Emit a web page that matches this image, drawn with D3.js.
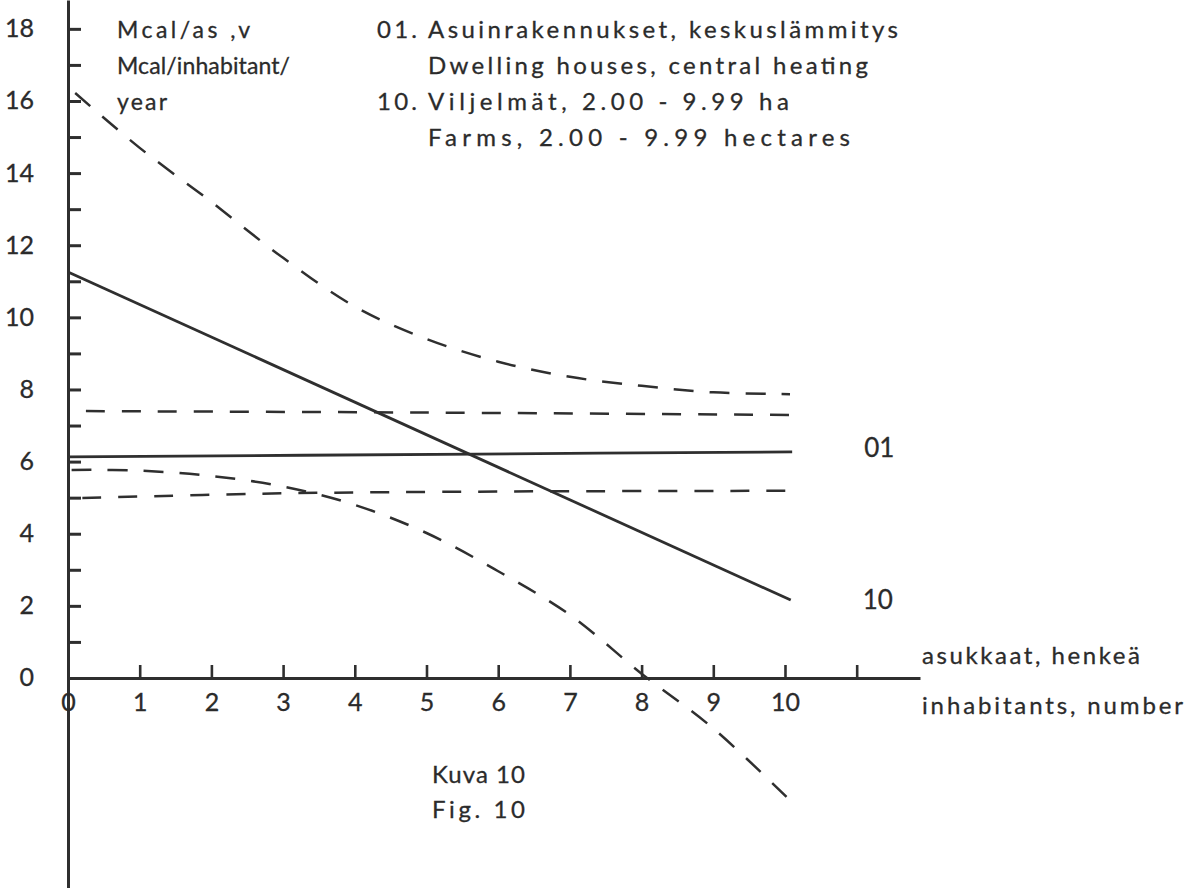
<!DOCTYPE html>
<html>
<head>
<meta charset="utf-8">
<script src="https://cdn.jsdelivr.net/npm/d3@7"></script>
<style>
  html, body { margin: 0; padding: 0; background: #ffffff; }
  svg { display: block; }
  text {
    font-family: Lato, "Open Sans", sans-serif;
    fill: #2b2b2b;
    stroke: #2b2b2b;
    stroke-width: 0.3px;
  }
</style>
</head>
<body>
<svg id="chart" width="1200" height="888"></svg>
<script>
// Energy use per inhabitant against household size (Fig. 10)
// x: inhabitants, number; y: Mcal per inhabitant per year

const xTickValues = [0, 1, 2, 3, 4, 5, 6, 7, 8, 9, 10, 11];
const xTickLabels = ["0", "1", "2", "3", "4", "5", "6", "7", "8", "9", "10", ""];
const yTickValues = [0, 1, 2, 3, 4, 5, 6, 7, 8, 9, 10, 11, 12, 13, 14, 15, 16, 17, 18];
const yTickLabels = ["0", "", "2", "", "4", "", "6", "", "8", "", "10", "", "12", "", "14", "", "16", "", "18"];

// 01 dwelling houses, central heating: regression line and its limits
const dwellingMean  = [[0, 6.13], [5.7, 6.21], [10.1, 6.27]];
const dwellingUpper = [[0.25, 7.40], [5, 7.36], [10.2, 7.29]];
const dwellingLower = [[0.2, 4.99], [3, 5.12], [6, 5.17], [10.2, 5.19]];

// 10 farms, 2.00 - 9.99 ha: regression line and its limits
const farmMean  = [[0, 11.26], [10.08, 2.16]];
const farmUpper = [[0.1, 16.22], [1, 14.7], [2, 13.2], [3, 11.65], [4, 10.3], [5, 9.4],
                   [6, 8.77], [7, 8.35], [8, 8.1], [9, 7.92], [10.07, 7.87]];
const farmLower = [[0.05, 5.77], [1, 5.75], [2, 5.6], [3, 5.31], [4, 4.8], [5, 4.02],
                   [6, 2.96], [7, 1.75], [8, 0.12], [9, -1.4], [10.1, -3.45]];

const seriesCodes = ["01", "10"];
const unitLines = ["Mcal/as ,v", "Mcal/inhabitant/", "year"];
const legendNumbers = ["01.", "10."];
const legendLines = [
  "Asuinrakennukset, keskuslämmitys",
  "Dwelling houses, central heating",
  "Viljelmät, 2.00 - 9.99 ha",
  "Farms, 2.00 - 9.99 hectares"
];
const xTitleLines = ["asukkaat, henkeä", "inhabitants, number"];
const captionLines = ["Kuva 10", "Fig.  10"];

const ink = "#2f2f2f";
const svg = d3.select("#chart");

const x = d3.scaleLinear().domain([0, 11.883]).range([68, 920]);
const y = d3.scaleLinear().domain([-5.824, 18.8]).range([888, 0]);

// y axis: ticks pointing right, labels on the left
const yAxis = d3.axisLeft(y)
  .tickValues(yTickValues)
  .tickFormat((d, i) => yTickLabels[i])
  .tickSizeInner(-13)
  .tickSizeOuter(0)
  .tickPadding(34);

const gy = svg.append("g").attr("transform", "translate(68,0)").call(yAxis);
gy.select(".domain").attr("stroke", ink).attr("stroke-width", 3);
gy.selectAll(".tick line").attr("stroke", ink).attr("stroke-width", 3);
gy.selectAll(".tick text")
  .attr("fill", "#2b2b2b")
  .style("font-size", "25px")
  .style("font-family", "Lato, 'Open Sans', sans-serif");

// x axis: ticks pointing up, labels below
const xAxis = d3.axisBottom(x)
  .tickValues(xTickValues)
  .tickFormat((d, i) => xTickLabels[i])
  .tickSizeInner(-13)
  .tickSizeOuter(0)
  .tickPadding(15);

const gx = svg.append("g").attr("transform", `translate(0,${y(0)})`).call(xAxis);
gx.select(".domain").attr("stroke", ink).attr("stroke-width", 3);
gx.selectAll(".tick line").attr("stroke", ink).attr("stroke-width", 2.6);
gx.selectAll(".tick text")
  .attr("fill", "#2b2b2b")
  .style("font-size", "25px")
  .style("font-family", "Lato, 'Open Sans', sans-serif");

// data lines
const line = d3.line().x(d => x(d[0])).y(d => y(d[1])).curve(d3.curveCatmullRom.alpha(0.5));

const plot = svg.append("g").attr("fill", "none").attr("stroke", ink).attr("stroke-linecap", "butt");

plot.append("path").datum(dwellingMean).attr("d", line).attr("stroke-width", 2.8);
plot.append("path").datum(dwellingUpper).attr("d", line).attr("stroke-width", 2.5).attr("stroke-dasharray", "19,17");
plot.append("path").datum(dwellingLower).attr("d", line).attr("stroke-width", 2.5).attr("stroke-dasharray", "19,17");

plot.append("path").datum(farmMean).attr("d", line).attr("stroke-width", 2.8);
plot.append("path").datum(farmUpper).attr("d", line).attr("stroke-width", 2.5).attr("stroke-dasharray", "20,16");
plot.append("path").datum(farmLower).attr("d", line).attr("stroke-width", 2.5).attr("stroke-dasharray", "20,16");

// series codes at the right end of the regression lines
const ends = [dwellingMean[dwellingMean.length - 1], farmMean[farmMean.length - 1]];
svg.append("g").selectAll("text").data(seriesCodes).join("text")
  .attr("x", (d, i) => x(ends[i][0]) + 72)
  .attr("y", (d, i) => y(ends[i][1]) + 5 + i * 4)
  .style("font-size", "26px")
  .text(d => d);

// unit text
const unitWidths = [133, 173, 50];
svg.append("g").selectAll("text").data(unitLines).join("text")
  .attr("x", 117)
  .attr("y", (d, i) => 38 + i * 36)
  .attr("textLength", (d, i) => unitWidths[i])
  .attr("lengthAdjust", "spacing")
  .style("font-size", "23px")
  .text(d => d);

// legend
const legendWidths = [470, 440, 361, 422];
const lg = svg.append("g");
lg.selectAll("text.num").data(legendNumbers).join("text")
  .attr("class", "num")
  .attr("x", 377)
  .attr("y", (d, i) => 38 + i * 72)
  .attr("textLength", 40)
  .attr("lengthAdjust", "spacing")
  .style("font-size", "24px")
  .text(d => d);
lg.selectAll("text.desc").data(legendLines).join("text")
  .attr("class", "desc")
  .attr("x", 428)
  .attr("y", (d, i) => 38 + i * 36)
  .attr("textLength", (d, i) => legendWidths[i])
  .attr("lengthAdjust", "spacing")
  .style("font-size", "24px")
  .text(d => d);

// x axis title
const titleWidths = [218, 261];
svg.append("g").selectAll("text").data(xTitleLines).join("text")
  .attr("x", 922)
  .attr("y", (d, i) => (i === 0 ? 664 : 714))
  .attr("textLength", (d, i) => titleWidths[i])
  .attr("lengthAdjust", "spacing")
  .style("font-size", "24px")
  .text(d => d);

// figure caption
svg.append("g").selectAll("text").data(captionLines).join("text")
  .attr("x", 432)
  .attr("y", (d, i) => 783 + i * 35)
  .attr("textLength", 93)
  .attr("lengthAdjust", "spacing")
  .style("font-size", "24px")
  .text(d => d);
</script>
</body>
</html>
